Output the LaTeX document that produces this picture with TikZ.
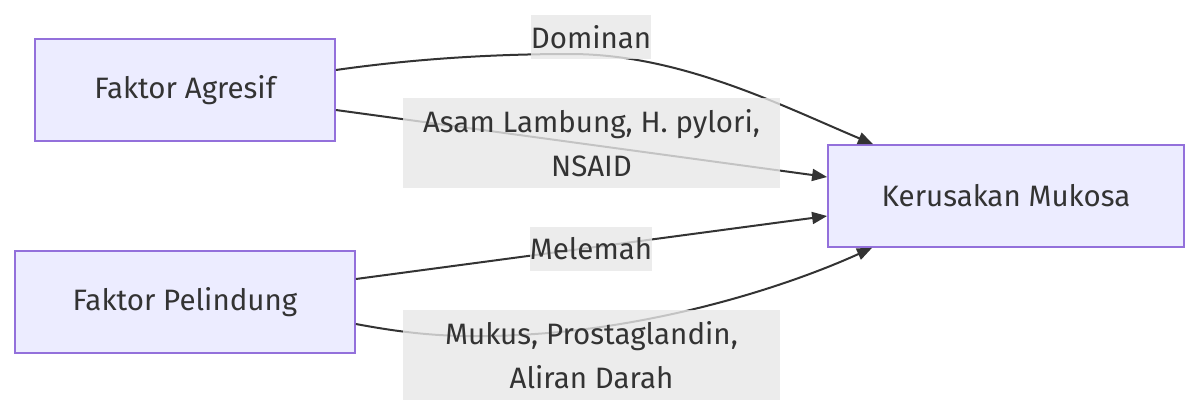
\documentclass[tikz,border=0pt]{standalone}
\usepackage{fontspec}
\setmainfont{Fira Sans}
\usetikzlibrary{arrows.meta}
\definecolor{nodefill}{HTML}{ECECFF}
\definecolor{nodeline}{HTML}{9370DB}
\definecolor{txt}{HTML}{333333}
\definecolor{lblfill}{HTML}{E8E8E8}
\newcommand{\mainfnt}{\fontsize{29.5pt}{44pt}\selectfont}
\begin{document}
\begin{tikzpicture}[x=1pt,y=-1pt,
  box/.style={draw=nodeline, fill=nodefill, line width=1.8pt, inner sep=0pt, text=txt, font=\mainfnt},
  lbl/.style={fill=lblfill, fill opacity=0.8, text opacity=1, inner sep=0pt, text=txt, align=center, font=\mainfnt},
  edge/.style={draw=txt, line width=2pt, -{Triangle[length=15pt,width=12pt]}}]
\fill[white] (0,0) rectangle (1200,416);
\useasboundingbox (0,0) rectangle (1200,416);
% main nodes
\node[box, minimum width=300pt, minimum height=102pt] (fa) at (185,90) {Faktor Agresif};
\node[box, minimum width=340pt, minimum height=102pt] (fp) at (185,302) {Faktor Pelindung};
\node[box, minimum width=356pt, minimum height=102pt] (km) at (1006,196) {Kerusakan Mukosa};
% edges
\draw[edge] ([yshift=20pt]fa.east) .. controls (420,58) and (500,54) .. (570,54)
  .. controls (680,54) and (780,105) .. ([xshift=-133pt]km.north);
\draw[edge] ([yshift=-20pt]fa.east) -- ([yshift=19pt]km.west);
\draw[edge] ([yshift=23pt]fp.east) -- ([yshift=-20pt]km.west);
\draw[edge] ([yshift=-22pt]fp.east) .. controls (420,336) and (470,340) .. (560,332)
  .. controls (680,320) and (790,285) .. ([xshift=-134pt]km.south);
% edge labels
\node[lbl, minimum width=116pt, minimum height=44pt] (l1) at (591,37) {Dominan};
\node[lbl, minimum width=377pt, minimum height=90pt] (l2) at (591.5,143) {Asam Lambung, H. pylori,\\NSAID};
\node[lbl, minimum width=120pt, minimum height=44pt] (l3) at (591,249) {Melemah};
\node[lbl, minimum width=377pt, minimum height=90pt] (l4) at (591.5,355) {Mukus, Prostaglandin,\\Aliran Darah};
\end{tikzpicture}
\end{document}
